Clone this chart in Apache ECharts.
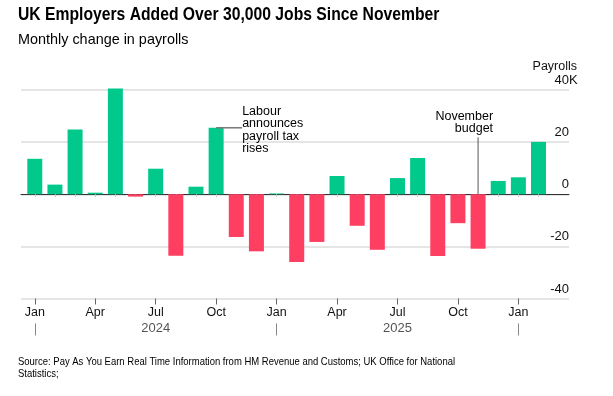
<!DOCTYPE html>
<html>
<head>
<meta charset="utf-8">
<script src="https://cdn.jsdelivr.net/npm/echarts@6/dist/echarts.min.js"></script>
<style>
html, body { margin: 0; padding: 0; background: #fff; }
#chart { width: 613px; height: 396px; }
</style>
</head>
<body>
<div id="chart"></div>
<script>
// monthly change in UK payrolls, thousands
var months = [
  'Jan 2024', 'Feb 2024', 'Mar 2024', 'Apr 2024', 'May 2024', 'Jun 2024',
  'Jul 2024', 'Aug 2024', 'Sep 2024', 'Oct 2024', 'Nov 2024', 'Dec 2024',
  'Jan 2025', 'Feb 2025', 'Mar 2025', 'Apr 2025', 'May 2025', 'Jun 2025',
  'Jul 2025', 'Aug 2025', 'Sep 2025', 'Oct 2025', 'Nov 2025', 'Dec 2025',
  'Jan 2026', 'Feb 2026'
]
var payrolls = [
  13.6, 3.7, 24.8, 0.6, 40.6, -0.9,
  9.8, -23.6, 2.9, 25.5, -16.4, -21.9,
  0.3, -26.0, -18.3, 7.0, -12.1, -21.3,
  6.2, 13.9, -23.7, -11.1, -20.9, 5.1,
  6.5, 20.1
]
var yTicks = [-40, -20, 0, 20, 40]
var GREEN = '#00c98b'
var RED = '#ff3f62'
var FONT = '"Liberation Sans", Arial, sans-serif'

var chart = echarts.init(document.getElementById('chart'))

var gridTop = 90
var gridBottom = 97.5

function quarterIdx (i) { return i % 3 === 0 }

var option = {
  animation: false,
  textStyle: { fontFamily: FONT },
  grid: [
    // bars
    { left: 24.7, right: 64.4, top: gridTop, bottom: gridBottom },
    // gridlines + labels, a bit wider
    { left: 21, right: 44, top: gridTop, bottom: gridBottom }
  ],
  xAxis: [{
    // every month: small ticks
    type: 'category',
    gridIndex: 0,
    data: months,
    position: 'bottom',
    axisLine: { show: false },
    axisTick: { show: true, alignWithLabel: true, interval: 0, length: 3, lineStyle: { color: '#ccc' } },
    axisLabel: { show: false },
    splitLine: { show: false }
  }, {
    // quarters: longer ticks and month names
    type: 'category',
    gridIndex: 0,
    data: months,
    position: 'bottom',
    axisLine: { show: false },
    axisTick: { show: true, alignWithLabel: true, interval: quarterIdx, length: 6, lineStyle: { color: '#666' } },
    axisLabel: {
      interval: quarterIdx,
      margin: 8,
      fontSize: 12.5,
      color: '#111',
      formatter: function (v) { return v.split(' ')[0] }
    }
  }, {
    // year names
    type: 'category',
    gridIndex: 0,
    data: months,
    position: 'bottom',
    offset: 20,
    axisLine: { show: false },
    axisTick: { show: false },
    axisLabel: {
      interval: function (i) { return i % 12 === 6 },
      margin: 3,
      fontSize: 13,
      color: '#555',
      formatter: function (v) { return v.split(' ')[1] }
    }
  }, {
    // year separators
    type: 'category',
    gridIndex: 0,
    data: months,
    position: 'bottom',
    offset: 37,
    axisLine: { show: false },
    axisTick: {
      show: true, inside: true, alignWithLabel: true, length: 12,
      interval: function (i) { return i % 12 === 0 },
      lineStyle: { color: '#888' }
    },
    axisLabel: { show: false }
  }, {
    type: 'value',
    gridIndex: 1,
    min: 0,
    max: 1,
    axisLine: { show: true, onZero: true, lineStyle: { color: '#333', width: 1 } },
    axisTick: { show: false },
    axisLabel: { show: false },
    splitLine: { show: false }
  }],
  yAxis: [{
    type: 'value',
    gridIndex: 0,
    min: yTicks[0],
    max: yTicks[yTicks.length - 1],
    interval: 20,
    show: false
  }, {
    type: 'value',
    gridIndex: 1,
    position: 'right',
    min: yTicks[0],
    max: yTicks[yTicks.length - 1],
    interval: 20,
    axisLine: { show: false },
    axisTick: { show: false },
    axisLabel: {
      inside: true,
      margin: 0,
      verticalAlign: 'bottom',
      padding: [0, 0, 3, 0],
      fontSize: 13,
      color: '#111'
    },
    splitLine: { show: true, lineStyle: { color: '#ddd', width: 1.5 } }
  }],
  series: [{
    type: 'bar',
    xAxisIndex: 0,
    yAxisIndex: 0,
    barWidth: 15,
    clip: false,
    data: payrolls.map(function (v) {
      return { value: v, itemStyle: { color: v >= 0 ? GREEN : RED } }
    }),
    z: 3
  }]
}

chart.setOption(option)

// annotations placed from the data scale
var oct24 = chart.convertToPixel({ xAxisIndex: 0, yAxisIndex: 0 }, [9, payrolls[9]])
var nov25 = chart.convertToPixel({ xAxisIndex: 0, yAxisIndex: 0 }, [22, 0])
var zeroY = nov25[1]
var k40 = chart.convertToPixel({ xAxisIndex: 4, yAxisIndex: 1 }, [1, 40])

chart.setOption({
  graphic: [{
    // headline, subtitle and source (the original face is narrower, so squeeze)
    type: 'text',
    x: 18,
    y: 6,
    scaleX: 0.872,
    style: { text: 'UK Employers Added Over 30,000 Jobs Since November', font: 'bold 18px ' + FONT, fill: '#000' }
  }, {
    type: 'text',
    x: 18,
    y: 32,
    scaleX: 0.96,
    style: { text: 'Monthly change in payrolls', font: '15px ' + FONT, fill: '#000' }
  }, {
    type: 'text',
    x: 18,
    y: 356,
    scaleX: 0.903,
    style: {
      text: 'Source: Pay As You Earn Real Time Information from HM Revenue and Customs; UK Office for National\nStatistics;',
      font: '10.5px ' + FONT,
      lineHeight: 12,
      fill: '#000'
    }
  }, {
    type: 'line',
    shape: { x1: oct24[0], y1: oct24[1], x2: oct24[0] + 26, y2: oct24[1] },
    style: { stroke: '#777', lineWidth: 1.5 },
    z: 10
  }, {
    type: 'text',
    left: oct24[0] + 26,
    top: oct24[1] - 23,
    style: {
      text: 'Labour\nannounces\npayroll tax\nrises',
      font: '12.5px ' + FONT,
      lineHeight: 12.4,
      fill: '#000'
    },
    z: 10
  }, {
    type: 'line',
    shape: { x1: nov25[0], y1: zeroY - 57, x2: nov25[0], y2: zeroY },
    style: { stroke: '#555', lineWidth: 1 },
    z: 10
  }, {
    type: 'text',
    x: nov25[0] + 15,
    y: zeroY - 84,
    style: {
      text: 'November\nbudget',
      font: '12.5px ' + FONT,
      lineHeight: 12,
      align: 'right',
      fill: '#000'
    },
    z: 10
  }, {
    type: 'text',
    x: k40[0] + 8,
    y: k40[1] - 17,
    style: { text: 'Payrolls', font: '12.5px ' + FONT, align: 'right', verticalAlign: 'bottom', fill: '#111' },
    z: 10
  }, {
    type: 'text',
    x: k40[0],
    y: k40[1] - 3,
    style: { text: 'K', font: '13px ' + FONT, align: 'left', verticalAlign: 'bottom', fill: '#111' },
    z: 10
  }]
})

window.addEventListener('resize', function () {
  chart.resize()
})
</script>
</body>
</html>
